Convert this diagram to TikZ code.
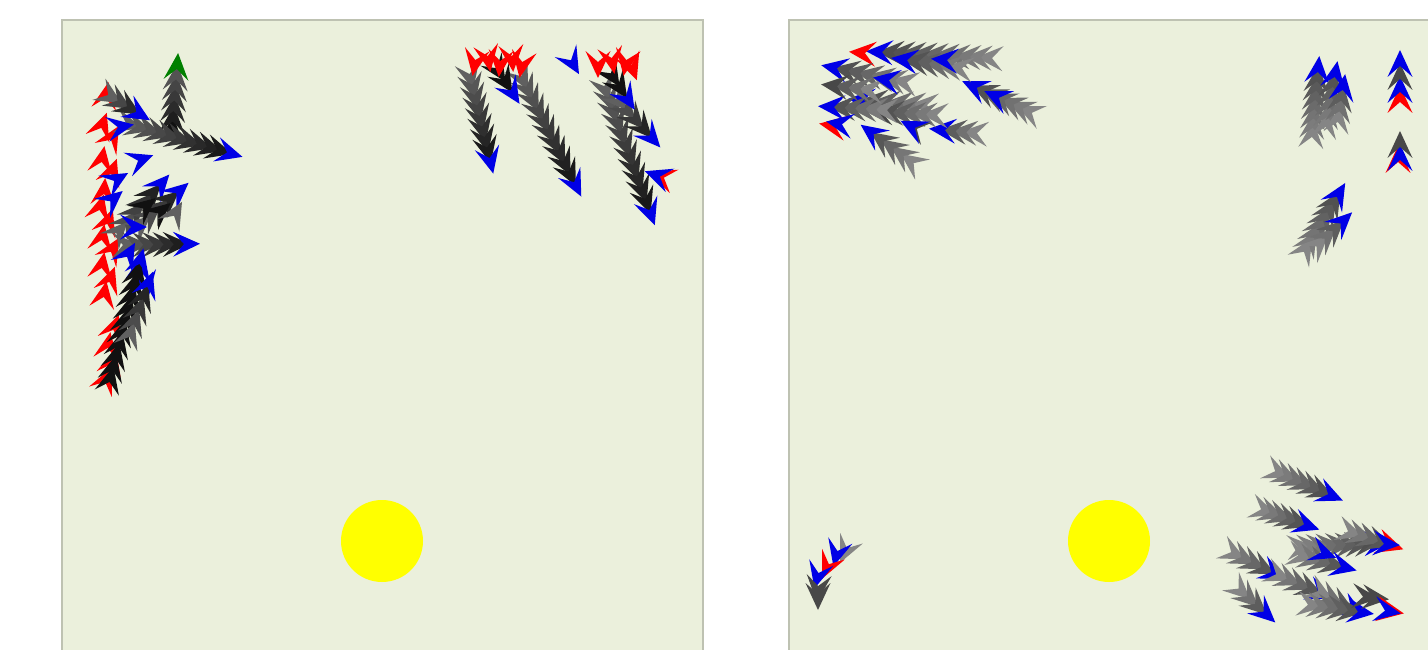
\documentclass[tikz,border=0pt]{standalone}
\definecolor{panel}{RGB}{235,240,220}
\definecolor{pborder}{RGB}{190,194,178}
\definecolor{lt1}{HTML}{606060}
\definecolor{lt2}{HTML}{111111}
\definecolor{rt1}{HTML}{858585}
\definecolor{rt2}{HTML}{484848}
\definecolor{bl}{HTML}{0000E6}
\definecolor{rd}{HTML}{FF0000}
\definecolor{gr}{HTML}{008000}
\definecolor{sun}{HTML}{FFFF00}
\newcommand\chev[4]{\fill[#4,shift={(#1,#2)},rotate=#3] (14,0)--(-13,12.5)--(-2,0)--(-13,-12.5)--cycle;}
% trail: x1 y1 (tail) x2 y2 (head) n tailstart tailend head
\newcommand\trail[8]{%
  \pgfmathsetmacro\tang{atan2((#2)-(#4),(#3)-(#1))}%
  \pgfmathtruncatemacro\nm{#5-1}%
  \foreach \i in {0,...,\nm}{%
    \pgfmathsetmacro\tx{#1+(#3-#1)*\i/#5}%
    \pgfmathsetmacro\ty{#2+(#4-#2)*\i/#5}%
    \pgfmathtruncatemacro\pc{100*\i/#5}%
    \chev{\tx}{\ty}{\tang}{#7!\pc!#6}%
  }%
  \chev{#3}{#4}{\tang}{#8}%
}
\begin{document}
\begin{tikzpicture}[x=1pt,y=-1pt]
\useasboundingbox (0,0) rectangle (1428,650);
\clip (0,0) rectangle (1428,650);
\fill[white] (0,0) rectangle (1428,650);
% panels
\draw[pborder,fill=panel,line width=1.5] (62,20) rectangle (703,670);
\draw[pborder,fill=panel,line width=1.5] (789,20) rectangle (1450,670);
\fill[sun] (382,541) circle (41);
\fill[sun] (1109,541) circle (41);

% ===== LEFT PANEL =====
% red column
\foreach \x/\y/\a in {106/96/80,102/126/70,112/138/60,102/160/80,112/172/70,104/192/85,
  100/208/75,108/222/70,102/238/80,112/250/60,102/266/80,110/280/70,104/295/80,
  114/328/70,108/346/80,112/362/75,106/380/65}{\chev{\x}{\y}{\a}{rd}}
% gray trail to green
\trail{172}{130}{177}{67}{6}{lt2}{lt1}{gr}
% horizontal trail
\trail{128}{124}{229}{153}{10}{lt1}{lt2}{bl}
\trail{110}{96}{138}{113}{3}{lt1}{lt2}{bl}
\chev{120}{127}{10}{bl}
\chev{140}{160}{20}{bl}
\chev{116}{180}{30}{bl}
\chev{112}{200}{40}{bl}
% diagonal black trails going up-right
\trail{118}{232}{160}{185}{5}{lt1}{lt2}{bl}
\trail{140}{225}{178}{192}{4}{lt1}{lt2}{bl}
\trail{125}{245}{186}{244}{6}{lt1}{lt2}{bl}
\chev{133}{227}{0}{bl}
\chev{140}{268}{80}{bl}
\chev{146}{284}{-80}{bl}
\chev{128}{255}{60}{bl}
% column of black chevrons pointing up
\trail{110}{380}{140}{262}{10}{lt2}{lt2}{bl}
\trail{130}{335}{148}{285}{4}{lt1}{lt2}{bl}
\chev{145}{207}{40}{lt2}
\chev{160}{212}{40}{lt2}
\chev{175}{214}{60}{lt1}

% right part of left panel
\trail{470}{76}{490}{160}{8}{lt1}{lt2}{bl}
\trail{522}{78}{575}{184}{10}{lt1}{lt2}{bl}
\trail{605}{88}{650}{212}{11}{lt1}{lt2}{bl}
\trail{618}{100}{651}{137}{4}{lt1}{lt2}{bl}
\trail{498}{70}{512}{92}{2}{lt2}{lt2}{bl}
\trail{612}{75}{627}{98}{2}{lt2}{lt2}{bl}
\chev{572}{62}{-60}{bl}
\foreach \x/\y/\a in {475/62/-100,488/58/-80,500/63/-95,512/58/-85,522/64/-100,
  598/64/-90,612/60/-80,626/62/-100,632/67/-70}{\chev{\x}{\y}{\a}{rd}}
\chev{662}{177}{160}{rd}
\chev{658}{176}{160}{bl}

% ===== RIGHT PANEL =====
% top-left cluster (pointing left)
\trail{1030}{112}{975}{87}{6}{rt1}{rt2}{bl}
\chev{997}{97}{155}{bl}
\trail{990}{58}{880}{52}{10}{rt1}{rt2}{bl}
\trail{960}{68}{905}{60}{5}{rt1}{rt2}{bl}
\chev{945}{60}{175}{bl}
\chev{863}{53}{175}{rd}
\trail{975}{133}{943}{130}{3}{rt1}{rt2}{bl}
\trail{912}{162}{872}{133}{4}{rt1}{rt2}{bl}
\trail{925}{105}{862}{100}{5}{rt1}{rt2}{bl}
\trail{935}{115}{880}{112}{5}{rt1}{rt2}{rt2}
\trail{915}{128}{913}{127}{1}{rt2}{rt2}{bl}
\trail{905}{82}{835}{68}{6}{rt1}{rt2}{bl}
\trail{885}{110}{832}{107}{5}{rt1}{rt2}{bl}
\trail{870}{90}{835}{86}{3}{rt1}{rt2}{rt2}
\chev{833}{126}{170}{rd}
\chev{840}{124}{170}{bl}
\chev{887}{80}{170}{bl}

% top-right columns
\trail{1312}{135}{1318}{70}{7}{rt1}{rt2}{bl}
\trail{1326}{125}{1335}{75}{5}{rt1}{rt2}{bl}
\trail{1338}{120}{1343}{88}{3}{rt1}{rt2}{bl}
\chev{1400}{100}{90}{rd}
\chev{1400}{90}{90}{bl}
\chev{1400}{77}{90}{rt2}
\chev{1400}{64}{90}{bl}
\chev{1398}{160}{90}{rd}
\chev{1400}{158}{90}{bl}
\chev{1400}{145}{90}{rt2}
\trail{1305}{250}{1338}{195}{7}{rt1}{rt2}{bl}
\trail{1318}{245}{1342}{222}{3}{rt1}{rt2}{bl}

% bottom-left
\chev{846}{550}{-115}{rt1}
\chev{837}{553}{-105}{bl}
\chev{828}{566}{-115}{rd}
\chev{818}{575}{-105}{bl}
\chev{818}{588}{-95}{rt2}
\chev{818}{596}{-90}{rt2}

% bottom-right
\trail{1277}{472}{1330}{495}{6}{rt1}{rt2}{bl}
\trail{1263}{510}{1306}{525}{5}{rt1}{rt2}{bl}
\trail{1300}{547}{1377}{543}{8}{rt1}{rt2}{bl}
\trail{1350}{532}{1390}{545}{4}{rt1}{rt2}{rd}
\chev{1386}{544}{-5}{bl}
\trail{1300}{556}{1343}{567}{4}{rt1}{rt2}{bl}
\chev{1323}{553}{-20}{bl}
\trail{1233}{553}{1273}{573}{4}{rt1}{rt2}{bl}
\trail{1278}{575}{1320}{593}{4}{rt1}{rt2}{bl}
\trail{1320}{592}{1353}{610}{3}{rt1}{rt2}{bl}
\trail{1240}{590}{1265}{613}{3}{rt1}{rt2}{bl}
\trail{1310}{605}{1360}{612}{5}{rt1}{rt2}{bl}
\trail{1365}{597}{1375}{598}{1}{rt2}{rt2}{rt2}
\chev{1390}{611}{-10}{rd}
\chev{1387}{611}{-10}{bl}
\end{tikzpicture}
\end{document}
